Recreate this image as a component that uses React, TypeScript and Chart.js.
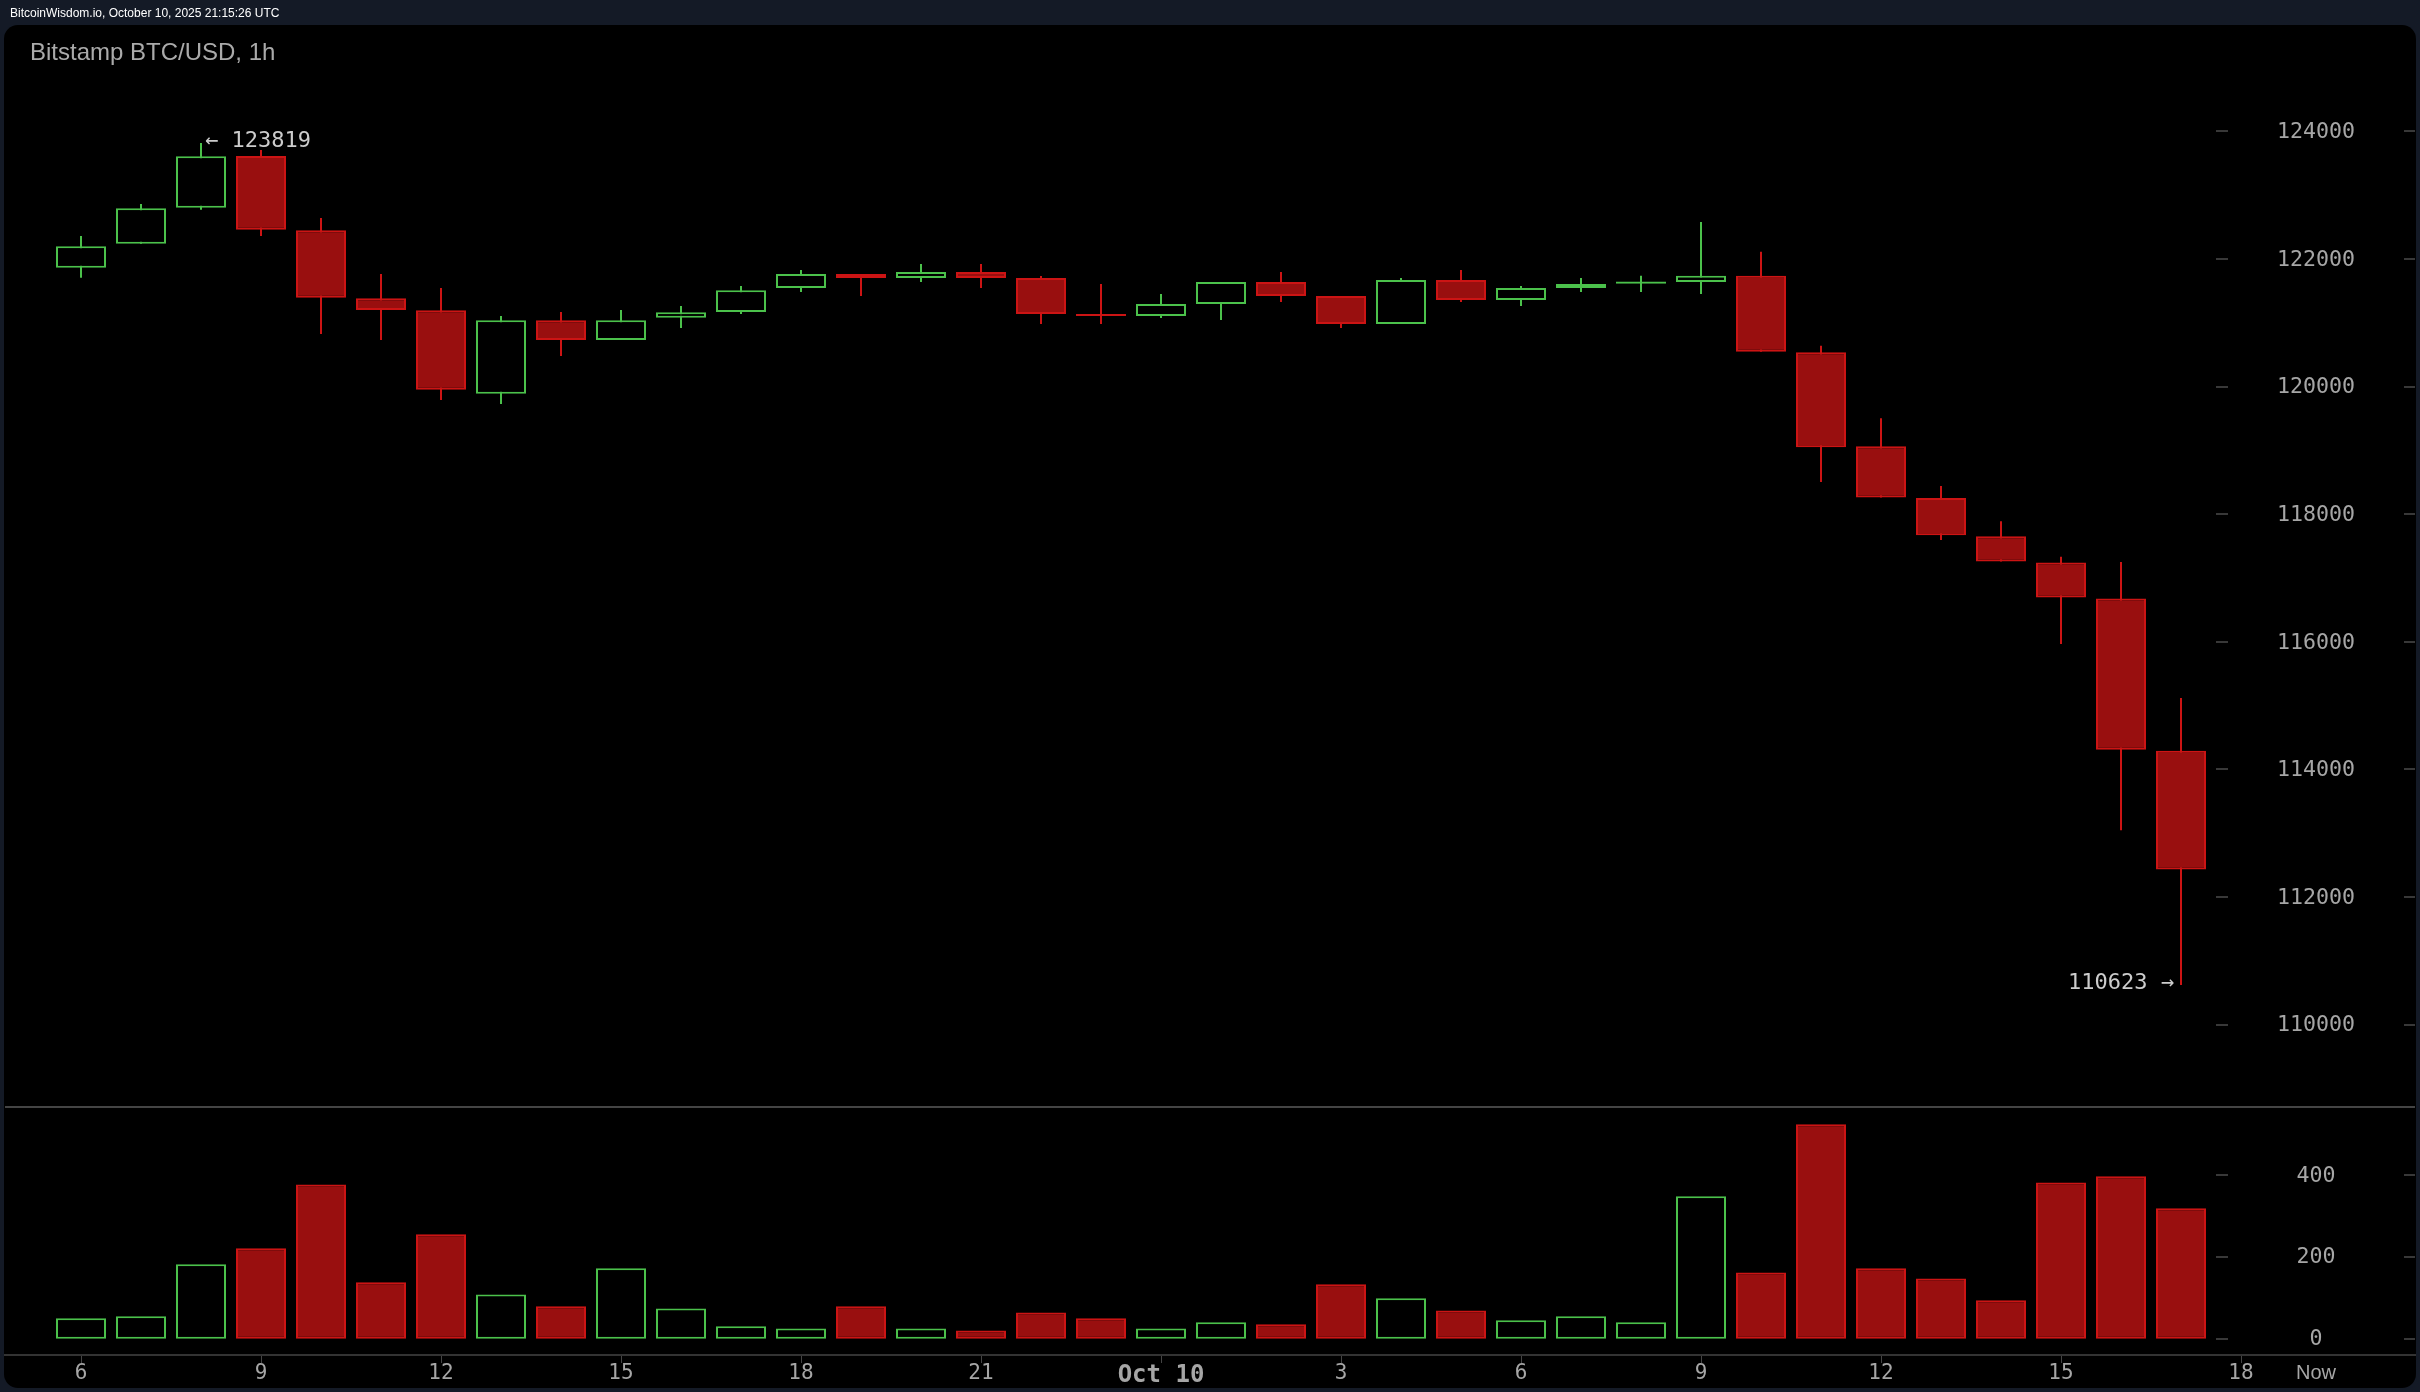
import React, { useEffect, useRef } from 'react';
import { Chart, registerables, Plugin } from 'chart.js';

Chart.register(...registerables);

// one entry per hour
const opens = [121865, 122241, 122806, 123616, 122451, 121385, 121197, 119890, 121041, 120732, 121081, 121171, 121547, 121766, 121703, 121798, 121703, 121139, 121108, 121296, 121641, 121422, 120983, 121672, 121359, 121547, 121614, 121641, 121738, 120541, 119065, 118254, 117655, 117245, 116680, 114295];
const highs = [122362, 122864, 123819, 123710, 122644, 121766, 121547, 121108, 121171, 121202, 121265, 121578, 121829, 121766, 121923, 121923, 121735, 121610, 121453, 121641, 121798, 121422, 121704, 121829, 121578, 121704, 121738, 122582, 122115, 120640, 119505, 118442, 117889, 117336, 117254, 115122];
const lows = [121708, 122241, 122774, 122362, 120826, 120732, 119791, 119729, 120481, 120732, 120920, 121139, 121484, 121422, 121641, 121547, 120983, 120983, 121077, 121045, 121327, 120920, 120983, 121327, 121264, 121484, 121484, 121451, 120549, 118508, 118262, 117597, 117262, 115968, 113049, 110623];
const closes = [122201, 122796, 123611, 122461, 121395, 121202, 119953, 121041, 120732, 121041, 121166, 121511, 121766, 121703, 121798, 121703, 121139, 121108, 121296, 121641, 121422, 120983, 121672, 121359, 121547, 121610, 121647, 121738, 120549, 119049, 118262, 117672, 117262, 116696, 114310, 112433];
const volumes = [50, 55, 182, 221, 377, 138, 255, 108, 79, 172, 74, 30, 25, 79, 25, 20, 64, 50, 25, 40, 35, 133, 99, 69, 45, 55, 40, 348, 162, 524, 172, 147, 94, 382, 397, 319];

const priceTicks = [110000, 112000, 114000, 116000, 118000, 120000, 122000, 124000];
const volumeTicks = [0, 200, 400];
const timeTickSlots = [0, 3, 6, 9, 12, 15, 18, 21, 24, 27, 30, 33, 36, 37.25];
const timeTickLabels = ['6', '9', '12', '15', '18', '21', 'Oct 10', '3', '6', '9', '12', '15', '18', 'Now'];

const GREEN = '#4bc14b';
const RED = '#cc1414';
const RED_FILL = '#990f0f';
const LABEL = '#a6a6a6';
const MONO = '"DejaVu Sans Mono", monospace';

const isUp = (i: number) => closes[i] > opens[i];
const edgeColor = (i: number) => (isUp(i) ? GREEN : RED);
const fillColor = (i: number) => (isUp(i) ? '#000000' : RED_FILL);
const slots = opens.map((_, i) => i);

// the short dashes either side of the y labels and the pane separator
const axisMarks: Plugin = {
    id: 'axisMarks',
    afterDatasetsDraw(chart) {
        const { ctx, chartArea } = chart;
        ctx.save();
        ctx.fillStyle = '#383838';
        ['y', 'yv'].forEach((id) => {
            const scale = chart.scales[id];
            scale.ticks.forEach((t) => {
                const y = Math.round(scale.getPixelForValue(t.value)) - 1;
                ctx.fillRect(2216, y, 12, 2);
                ctx.fillRect(2404, y, 11, 2);
            });
        });
        ctx.fillStyle = '#444444';
        ctx.fillRect(chartArea.left, 1106, chartArea.width, 2);
        ctx.restore();
    }
};

// "← high" and "low →" notes
const extremes: Plugin = {
    id: 'extremes',
    afterDatasetsDraw(chart) {
        const { ctx, scales } = chart;
        const high = Math.max(...highs);
        const low = Math.min(...lows);
        ctx.save();
        ctx.font = `22px ${MONO}`;
        ctx.fillStyle = '#cccccc';
        ctx.textBaseline = 'middle';
        ctx.textAlign = 'left';
        ctx.fillText(`← ${high}`, scales.x.getPixelForValue(highs.indexOf(high)) + 4, scales.y.getPixelForValue(high) - 2);
        ctx.textAlign = 'right';
        ctx.fillText(`${low} →`, scales.x.getPixelForValue(lows.indexOf(low)) - 7, scales.y.getPixelForValue(low) - 2);
        ctx.restore();
    }
};

const App: React.FC = () => {
    const canvasRef = useRef<HTMLCanvasElement | null>(null);

    useEffect(() => {
        if (!canvasRef.current) return;
        document.body.style.margin = '0';

        const chart = new Chart(canvasRef.current, {
            type: 'bar',
            data: {
                datasets: [
                    {
                        // wicks sit behind the bodies
                        order: 3,
                        yAxisID: 'y',
                        data: slots.map((i) => ({ x: i, y: [lows[i], highs[i]] })) as any,
                        backgroundColor: slots.map(edgeColor),
                        borderWidth: 0,
                        barThickness: 2
                    },
                    {
                        order: 2,
                        yAxisID: 'y',
                        data: slots.map((i) => ({ x: i, y: [opens[i], closes[i]] })) as any,
                        backgroundColor: slots.map(fillColor),
                        borderColor: slots.map(edgeColor),
                        borderWidth: 2,
                        borderSkipped: false,
                        barThickness: 50
                    },
                    {
                        order: 1,
                        yAxisID: 'yv',
                        data: slots.map((i) => ({ x: i, y: volumes[i] })) as any,
                        backgroundColor: slots.map(fillColor),
                        borderColor: slots.map(edgeColor),
                        borderWidth: 2,
                        borderSkipped: false,
                        barThickness: 50
                    }
                ]
            },
            options: {
                responsive: false,
                animation: false,
                devicePixelRatio: 1,
                layout: { padding: { left: 5, right: 5, top: 25, bottom: 0 } },
                datasets: { bar: { grouped: false, inflateAmount: 0 } },
                plugins: { legend: { display: false }, tooltip: { enabled: false }, title: { display: false } },
                scales: {
                    x: {
                        type: 'linear',
                        offset: false,
                        min: -76 / 60,
                        max: 2334 / 60,
                        afterFit: (scale) => { scale.height = 37; },
                        afterBuildTicks: (scale) => { scale.ticks = timeTickSlots.map((value) => ({ value })); },
                        border: { color: '#333333', width: 2 },
                        grid: {
                            offset: false,
                            drawOnChartArea: false,
                            tickLength: 8,
                            tickWidth: 1,
                            tickColor: (ctx) => (ctx.index === timeTickLabels.length - 1 ? 'transparent' : '#444444')
                        },
                        ticks: {
                            autoSkip: false,
                            maxRotation: 0,
                            padding: -2,
                            color: LABEL,
                            font: (ctx) => {
                                const label = timeTickLabels[ctx.index];
                                if (label === 'Now') return { family: '"Liberation Sans", Arial, sans-serif', size: 20 };
                                if (label === 'Oct 10') return { family: MONO, size: 24, weight: 'bold' };
                                return { family: MONO, size: 21 };
                            },
                            callback: (_v, i) => timeTickLabels[i]
                        }
                    },
                    y: {
                        position: 'right',
                        min: 104823,
                        max: 125669,
                        afterFit: (scale) => { scale.width = 0; },
                        afterBuildTicks: (scale) => { scale.ticks = priceTicks.map((value) => ({ value })); },
                        border: { display: false },
                        grid: { display: false, drawTicks: false },
                        ticks: {
                            mirror: true,
                            crossAlign: 'center',
                            padding: -60,
                            labelOffset: 1,
                            color: LABEL,
                            font: { family: MONO, size: 21.6 },
                            callback: (v) => String(v)
                        }
                    },
                    yv: {
                        position: 'right',
                        min: -40,
                        max: 3212,
                        afterFit: (scale) => { scale.width = 0; },
                        afterBuildTicks: (scale) => { scale.ticks = volumeTicks.map((value) => ({ value })); },
                        border: { display: false },
                        grid: { display: false, drawTicks: false },
                        ticks: {
                            mirror: true,
                            crossAlign: 'center',
                            padding: -79.5,
                            labelOffset: 1,
                            color: LABEL,
                            font: { family: MONO, size: 21.6 },
                            callback: (v) => String(v)
                        }
                    }
                }
            },
            plugins: [axisMarks, extremes]
        });

        return () => {
            chart.destroy();
        };
    }, []);

    return (
        <div style={{ position: 'relative', width: 2420, height: 1392, background: '#141a26', overflow: 'hidden' }}>
            <div style={{ position: 'absolute', left: 4, top: 25, width: 2412, height: 1363, background: '#000000', borderRadius: 14 }} />
            <canvas ref={canvasRef} width={2420} height={1392} style={{ position: 'absolute', left: 0, top: 0 }} />
            <div style={{ position: 'absolute', left: 10, top: 6, font: '12px "Liberation Sans", Arial, sans-serif', color: '#ffffff', lineHeight: '14px', whiteSpace: 'nowrap' }}>
                BitcoinWisdom.io, October 10, 2025 21:15:26 UTC
            </div>
            <div style={{ position: 'absolute', left: 30, top: 38, font: '24px "Liberation Sans", Arial, sans-serif', color: '#aaaaaa', lineHeight: '28px', whiteSpace: 'nowrap' }}>
                Bitstamp BTC/USD, 1h
            </div>
        </div>
    );
};

export default App;
